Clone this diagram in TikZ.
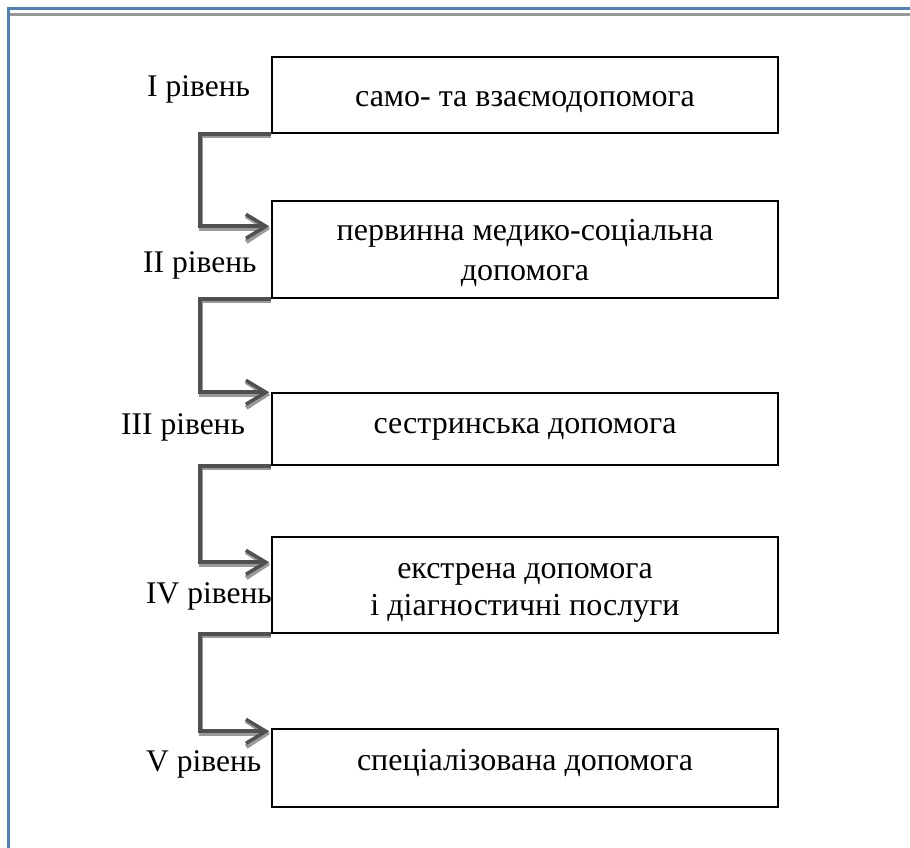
\documentclass[tikz,border=0pt]{standalone}
\usepackage{fontspec}
\setmainfont{Liberation Serif}
\usetikzlibrary{arrows.meta,calc}
\definecolor{frameblue}{HTML}{4F81BD}
\definecolor{shadowgray}{HTML}{999999}
\definecolor{linegray}{HTML}{505050}
\begin{document}
\begin{tikzpicture}[x=1pt,y=-1pt,
  box/.style={draw=black,line width=1.4pt,minimum width=506pt,inner sep=0pt},
  boxtext/.style={anchor=base,inner sep=0pt,font=\fontsize{32}{40}\selectfont},
  lvl/.style={anchor=base west,inner sep=0pt,font=\fontsize{31.5}{36}\selectfont},
  conn/.style={draw=linegray,line width=4pt,
    -{Straight Barb[length=20pt,width=24pt,line width=3.5pt]}},
  connshadow/.style={draw=shadowgray,line width=4pt,
    -{Straight Barb[length=20pt,width=26pt,line width=4.5pt]}}]
\useasboundingbox (0,0) rectangle (910,848);
% frame
\draw[frameblue,line width=3pt] (8,848) -- (8,9) -- (910,9);
\draw[shadowgray,line width=2.5pt] (10,14.5) -- (910,14.5);
% boxes
\node[box,minimum height=76pt] (b1) at (525,95) {};
\node[box,minimum height=97pt] (b2) at (525,249.5) {};
\node[box,minimum height=72pt] (b3) at (525,429) {};
\node[box,minimum height=96pt] (b4) at (525,585) {};
\node[box,minimum height=78pt] (b5) at (525,768) {};
% box texts
\node[boxtext] (t1) at (525,107) {само- та взаємодопомога};
\node[boxtext] (t2a) at (525,240) {первинна медико-соціальна};
\node[boxtext] (t2b) at (525,280) {допомога};
\node[boxtext] (t3) at (525,433) {сестринська допомога};
\node[boxtext] (t4a) at (525,578) {екстрена допомога};
\node[boxtext] (t4b) at (525,615) {і діагностичні послуги};
\node[boxtext] (t5) at (525,770) {спеціалізована допомога};
% levels
\node[lvl] (l1) at (147,97) {I рівень};
\node[lvl] (l2) at (143,272) {II рівень};
\node[lvl] (l3) at (121,434) {III рівень};
\node[lvl] (l4) at (146,603) {IV рівень};
\node[lvl] (l5) at (146,771) {V рівень};
% connectors
\foreach \a/\b/\d in {b1/b2/26,b2/b3/0,b3/b4/26,b4/b5/3}{
  \draw[connshadow] ($(\a.south west)+(0,2.5)$) -- ++(-70,0) |- ($(\b.north west)+(-1,\d+2.5)$);
  \draw[conn] (\a.south west) -- ++(-71,0) |- ($(\b.north west)+(-2,\d)$);
}
\end{tikzpicture}
\end{document}
